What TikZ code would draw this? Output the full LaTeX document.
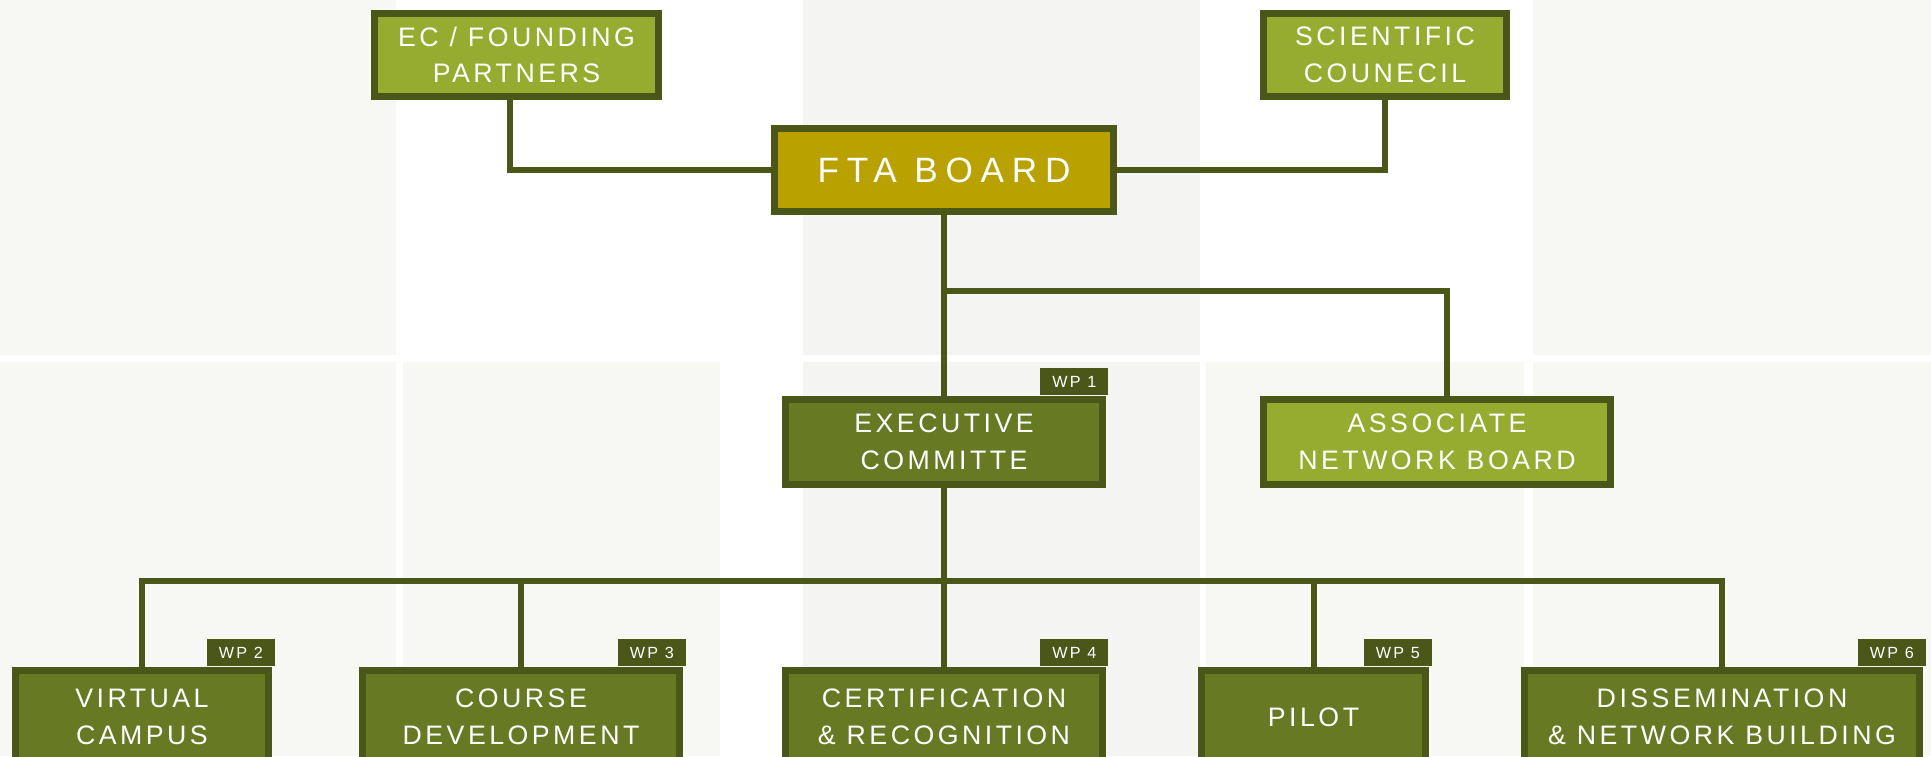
\documentclass[tikz,border=0pt]{standalone}
\usepackage{fontspec}
\usepackage{tikz}
\usetikzlibrary{calc,positioning}
\newfontfamily\boxfont[LetterSpace=13]{Liberation Sans}
\newfontfamily\tabfont[LetterSpace=14]{Liberation Sans}
\definecolor{edgegreen}{HTML}{4B5619}
\definecolor{leafgreen}{HTML}{95AC30}
\definecolor{mossgreen}{HTML}{677923}
\definecolor{boardgold}{HTML}{B9A200}
\definecolor{tilelight}{HTML}{F7F8F4}
\definecolor{tilegray}{HTML}{F4F4F2}
\tikzset{
    tile/.style={
    fill=tilelight,draw=none
    },
    greytile/.style={
    fill=tilegray,draw=none
    },
    box/.style={
    rectangle,draw=edgegreen,line width=0.07cm,inner sep=0pt,
    text=white,align=center,font={\boxfont\fontsize{7.6}{10.4}\selectfont},
    minimum height=0.83cm
    },
    leafbox/.style={
    box,fill=leafgreen
    },
    mossbox/.style={
    box,fill=mossgreen
    },
    boardbox/.style={
    box,fill=boardgold,font={\boxfont\addfontfeatures{LetterSpace=22}\fontsize{10}{12}\selectfont}
    },
    wptab/.style={
    rectangle,fill=edgegreen,inner sep=0pt,text=white,anchor=south east,
    minimum width=0.68cm,minimum height=0.27cm,font={\tabfont\fontsize{4.6}{5}\selectfont}
    },
    link/.style={
    draw=edgegreen,line width=0.06cm
    },
}
\begin{document}
\begin{tikzpicture}[x=0.01cm,y=-0.01cm]
   \useasboundingbox (0,0) rectangle (1931,756);
   \fill[white] (0,0) rectangle (1931,756);
   \path[tile] (0,0) rectangle (396,355);
   \path[greytile] (803,0) rectangle (1200,355);
   \path[tile] (1533,0) rectangle (1931,355);
   \path[tile] (0,362) rectangle (396,756);
   \path[tile] (403,362) rectangle (720,756);
   \path[greytile] (803,362) rectangle (1200,756);
   \path[tile] (1206,362) rectangle (1524,756);
   \path[tile] (1533,362) rectangle (1931,756);

   \node[leafbox,minimum width=2.84cm] (ec) at (516.5,55) {EC / FOUNDING\\PARTNERS};
   \node[leafbox,minimum width=2.43cm] (sci) at (1385,55) {SCIENTIFIC\\COUNECIL};
   \node[boardbox,minimum width=3.38cm] (fta) at (944,170) {FTA BOARD};
   \node[mossbox,minimum width=3.16cm,minimum height=0.85cm] (exec) at (944,442) {EXECUTIVE\\COMMITTE};
   \node[leafbox,minimum width=3.47cm,minimum height=0.85cm] (assoc) at (1437,442) {ASSOCIATE\\NETWORK BOARD};

   \node[mossbox,minimum width=2.53cm,minimum height=0.93cm] (vcampus) at (142,717) {VIRTUAL\\CAMPUS};
   \node[mossbox,minimum width=3.17cm,minimum height=0.93cm] (course) at (521,717) {COURSE\\DEVELOPMENT};
   \node[mossbox,minimum width=3.16cm,minimum height=0.93cm] (cert) at (944,717) {CERTIFICATION\\\& RECOGNITION};
   \node[mossbox,minimum width=2.24cm,minimum height=0.93cm] (pilot) at (1313.5,717) {PILOT};
   \node[mossbox,minimum width=3.95cm,minimum height=0.93cm] (dissem) at (1722,717) {DISSEMINATION\\\& NETWORK BUILDING};

   \node[wptab] (wp1) at ([xshift=0.035cm]exec.north east) {WP 1};
   \node[wptab] (wp2) at ([xshift=0.035cm]vcampus.north east) {WP 2};
   \node[wptab] (wp3) at ([xshift=0.035cm]course.north east) {WP 3};
   \node[wptab] (wp4) at ([xshift=0.035cm]cert.north east) {WP 4};
   \node[wptab] (wp5) at ([xshift=0.035cm]pilot.north east) {WP 5};
   \node[wptab] (wp6) at ([xshift=0.035cm]dissem.north east) {WP 6};

   \coordinate (split) at (944,291);
   \coordinate (bus) at (944,581);

   \path[link]
     ([xshift=-0.065cm]ec.south) |- (fta.west)
     (sci.south) |- (fta.east)
     (fta.south) -- (exec.north)
     (split) -| ([xshift=0.1cm]assoc.north)
     (exec.south) -- (cert.north)
     (vcampus.north) |- (bus) -| (dissem.north)
     (course.north) |- (bus)
     (pilot.north) |- (bus);
\end{tikzpicture}
\end{document}
